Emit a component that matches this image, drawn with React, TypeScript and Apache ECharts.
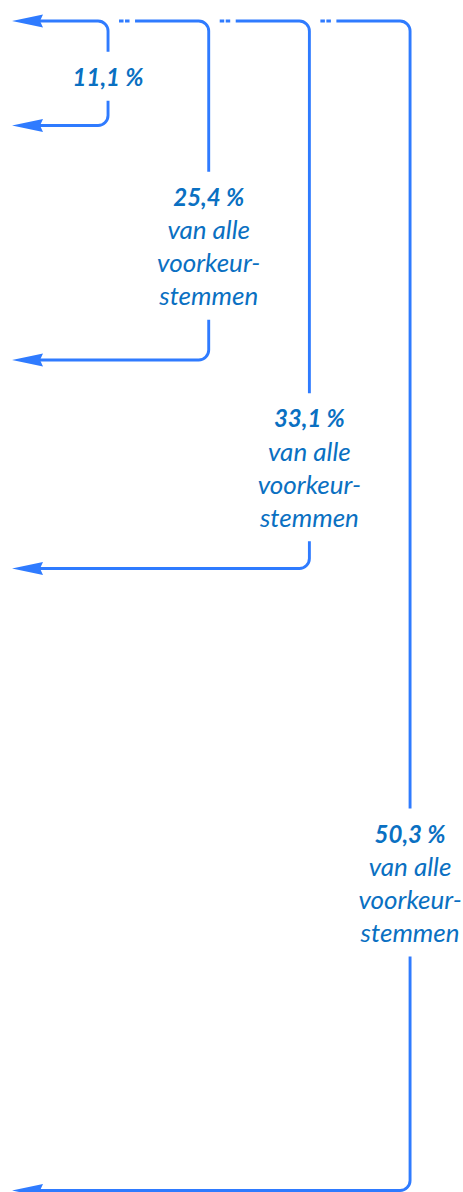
import React, { useEffect, useRef } from "react";
import * as echarts from "echarts";

// Share of all preferential votes captured by each bracket
const shareValues = [11.1, 25.4, 33.1, 50.3];
const shareLabels = ["11,1 %", "25,4 %", "33,1 %", "50,3 %"];
// Vertical extent of each bracket (layout rows of the source list, top = 0)
const bracketEnds = [104.5, 339, 547.5, 1169.5];
const bracketNames = ["A", "B", "C", "D"];
const subLabelLines = ["van alle", "voorkeur-", "stemmen"];
const showSubLabel = [false, true, true, true];

const LINE = "#2F7BFF";
const TEXT = "#0A70C2";

export default function App() {
  const ref = useRef<HTMLDivElement>(null);
  useEffect(() => {
    if (!ref.current) return;
    const chart = echarts.init(ref.current, undefined, { renderer: "svg" });
    const data = shareValues.map((v, i) => [i, bracketEnds[i], i ? bracketEnds[i - 1] : 0, v]);
    const lw = 2.9;
    const r = 10;
    const fontFamily = "Lato, 'Noto Sans', sans-serif";
    const lh = 33;
    const arrowTipX = 12;
    const arrowBackX = 43;
    const arrowNotchX = 40;
    const arrowHalf = 6.5;

    const arrow = (y: number) => ({
      type: "polygon",
      shape: {
        points: [
          [arrowTipX, y],
          [arrowBackX, y - arrowHalf],
          [arrowNotchX, y],
          [arrowBackX, y + arrowHalf],
        ],
      },
      style: { fill: LINE, stroke: null },
    });

    const renderItem = (params: any, api: any) => {
      const i = params.dataIndex;
      const [x, yEnd] = api.coord([i, api.value(1)]);
      const yTop = api.coord([i, 0])[1];
      const yPrev = api.coord([i, api.value(2)])[1];
      const labelY = (yPrev + yEnd) / 2 + 3;
      const nLines = showSubLabel[i] ? 1 + subLabelLines.length : 1;
      const gapHalf = (nLines * lh) / 2 + 8;
      const gapTop = labelY - gapHalf;
      const gapBottom = labelY + gapHalf;
      const children: any[] = [];
      const stroke = { stroke: LINE, lineWidth: lw, fill: "none", lineCap: "butt" };

      let topStart = arrowNotchX;
      if (i > 0) {
        const xPrev = api.coord([i - 1, 0])[0];
        topStart = xPrev + 27;
        children.push({
          type: "path",
          shape: {
            pathData: `M ${xPrev + 11} ${yTop} L ${xPrev + 15.5} ${yTop} M ${xPrev + 17} ${yTop} L ${xPrev + 21.5} ${yTop}`,
          },
          style: stroke,
        });
      } else {
        children.push(arrow(yTop));
      }
      children.push({
        type: "path",
        shape: {
          pathData: `M ${topStart} ${yTop} L ${x - r} ${yTop} A ${r} ${r} 0 0 1 ${x} ${yTop + r} L ${x} ${gapTop}`,
        },
        style: stroke,
      });
      children.push({
        type: "path",
        shape: {
          pathData: `M ${arrowNotchX} ${yEnd} L ${x - r} ${yEnd} A ${r} ${r} 0 0 0 ${x} ${yEnd - r} L ${x} ${gapBottom}`,
        },
        style: stroke,
      });
      children.push(arrow(yEnd));

      const textParts = [`{b|${shareLabels[i]}}`];
      if (showSubLabel[i]) subLabelLines.forEach((t) => textParts.push(`{n|${t}}`));
      children.push({
        type: "text",
        x,
        y: labelY,
        style: {
          text: textParts.join("\n"),
          align: "center",
          verticalAlign: "middle",
          fill: TEXT,
          rich: {
            b: {
              fontFamily,
              fontStyle: "italic",
              fontWeight: "bold",
              fontSize: 24,
              lineHeight: lh,
              fill: TEXT,
              color: TEXT,
              align: "center",
            },
            n: {
              fontFamily,
              fontStyle: "italic",
              fontWeight: "normal",
              fontSize: 26,
              lineHeight: lh,
              fill: TEXT,
              color: TEXT,
              align: "center",
            },
          },
        },
      });
      return { type: "group", children };
    };

    chart.setOption({
      animation: false,
      grid: { left: 57.7, right: 2.6, top: 21, bottom: 1.5 },
      xAxis: { type: "category", data: bracketNames, show: false, boundaryGap: true },
      yAxis: { type: "value", inverse: true, min: 0, max: 1169.5, show: false },
      series: [
        {
          type: "custom",
          clip: false,
          renderItem,
          data,
        },
      ],
    });
    return () => chart.dispose();
  }, []);
  return (
    <div
      ref={ref}
      style={{ position: "absolute", left: 0, top: 0, width: 463, height: 1192 }}
    />
  );
}
